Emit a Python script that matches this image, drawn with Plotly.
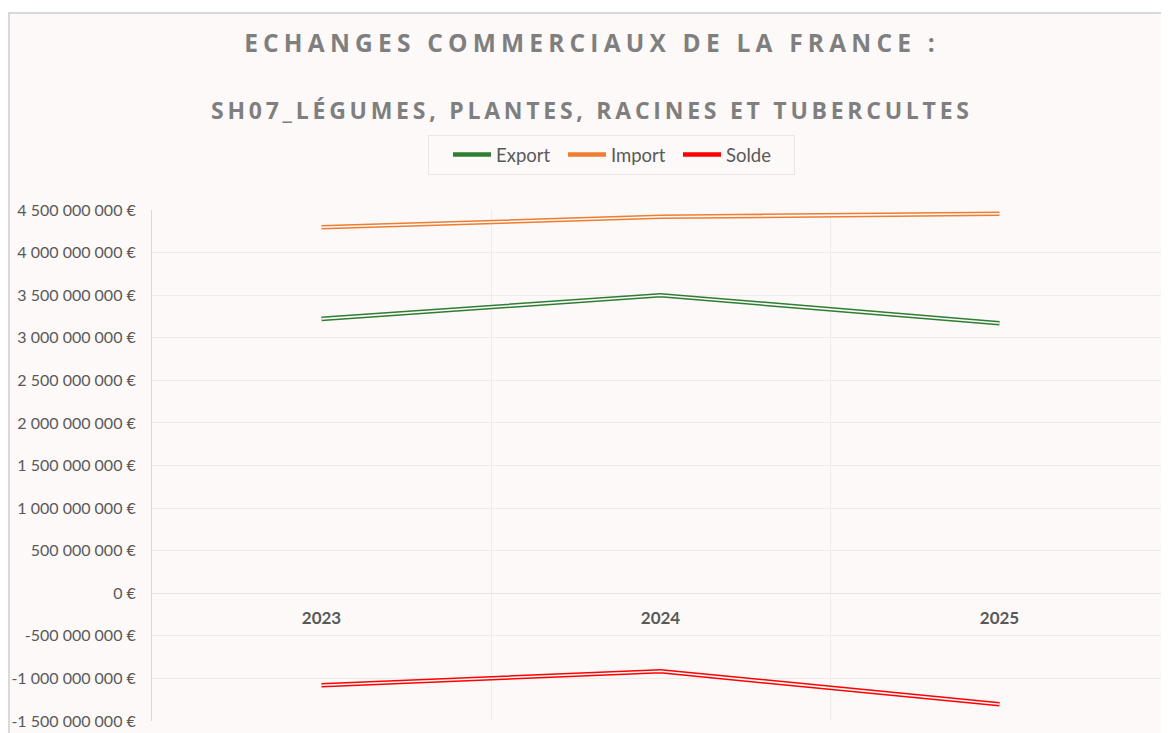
import plotly.graph_objects as go

# ---- data ----
years = ["2023", "2024", "2025"]
export_vals = [3.222e9, 3.499e9, 3.170e9]
import_vals = [4.297e9, 4.420e9, 4.456e9]
solde_vals = [-1.080e9, -0.916e9, -1.303e9]
y_ticks = [4.5e9, 4.0e9, 3.5e9, 3.0e9, 2.5e9, 2.0e9, 1.5e9, 1.0e9, 0.5e9, 0.0,
           -0.5e9, -1.0e9, -1.5e9]
title_line1 = "ECHANGES COMMERCIAUX DE LA FRANCE :"
title_line2 = "SH07_LÉGUMES, PLANTES, RACINES ET TUBERCULTES"

# ---- styling ----
BG = "#FCF9F8"
GRID = "#EEEBEA"
TXT = "#595959"
TITLE = "#7F7F7F"
FONT = "Lato"
TFONT = "Open Sans"

def fmt(v):
    return f"{v:,.0f}".replace(",", " ") + " €"

y_min, y_max = min(y_ticks), max(y_ticks)

series = [
    ("Export", export_vals, "#2E7D32"),
    ("Import", import_vals, "#ED7D31"),
    ("Solde", solde_vals, "#FF0000"),
]

fig = go.Figure()
for name, vals, col in series:
    fig.add_trace(go.Scatter(x=years, y=vals, name=name, mode="lines",
                             line=dict(color=col, width=4.6),
                             legendgroup=name, hoverinfo="skip"))
    fig.add_trace(go.Scatter(x=years, y=vals, name=name, mode="lines",
                             line=dict(color=BG, width=1.6),
                             legendgroup=name, showlegend=False, hoverinfo="skip"))

# page body has an 8px margin: figure coordinates = screen coordinates - 8
OFF = 8
W, H = 1169 - OFF, 733 - OFF
L = 152 - OFF
T = 210 - OFF
R = 0
B = H - (721 - OFF)
pw, ph = W - L - R, H - T - B

def px_x(p):  # screen px -> paper
    return (p - OFF - L) / pw

def px_y(p):
    return (H - B - (p - OFF)) / ph

fig.update_layout(
    width=W, height=H,
    margin=dict(l=L, r=R, t=T, b=B, pad=0),
    paper_bgcolor="white",
    plot_bgcolor="rgba(0,0,0,0)",
    font=dict(family=FONT, color=TXT, size=15),
    showlegend=True,
    legend=dict(orientation="h", x=px_x(611), y=px_y(155), xanchor="center",
                yanchor="middle", bgcolor=BG, bordercolor="#E9E6E5", borderwidth=1,
                font=dict(family=FONT, size=18.5, color=TXT), itemwidth=38,
                entrywidth=62, entrywidthmode="pixels",
                title=dict(text="&nbsp;&nbsp;", side="left",
                           font=dict(family=FONT, size=18.5)),
                traceorder="normal"),
    title=dict(text=f'<span style="letter-spacing:5.2px">{title_line1}</span>',
               x=(592 - OFF) / W, xref="container", xanchor="center",
               y=1 - (43 - OFF) / H, yref="container", yanchor="middle",
               font=dict(family=TFONT, size=24.5, color=TITLE, weight="bold")),
    shapes=[dict(type="rect", xref="paper", yref="paper", layer="below",
                 x0=px_x(9), x1=1.05, y0=-0.1, y1=px_y(13),
                 fillcolor=BG, line=dict(color="#D9D9D9", width=2))],
    annotations=[dict(text=f'<span style="letter-spacing:3.75px">{title_line2}</span>',
                      xref="paper", yref="paper", x=px_x(592), y=px_y(110),
                      xanchor="center", yanchor="middle", showarrow=False,
                      font=dict(family=TFONT, size=23, color=TITLE, weight="bold"))],
)

fig.update_xaxes(type="category", range=[-0.5, 2.5], tickson="boundaries",
                 showgrid=True, gridcolor=GRID, gridwidth=1, ticks="",
                 showline=False, zeroline=False,
                 anchor="free", position=(0 - y_min) / (y_max - y_min),
                 tickfont=dict(family=FONT, size=17, color=TXT, weight="bold"),
                 ticklabelstandoff=13)
fig.update_yaxes(range=[y_min, y_max], tickmode="array", tickvals=y_ticks,
                 ticktext=[fmt(v) for v in y_ticks], showgrid=True, gridcolor=GRID,
                 gridwidth=1, zeroline=True, zerolinecolor="#E6E3E2", zerolinewidth=1,
                 showline=True, linecolor="#D9D9D9", linewidth=1, ticks="",
                 ticklabelstandoff=12,
                 tickfont=dict(family=FONT, size=16, color=TXT))

fig.write_html("out.html")
